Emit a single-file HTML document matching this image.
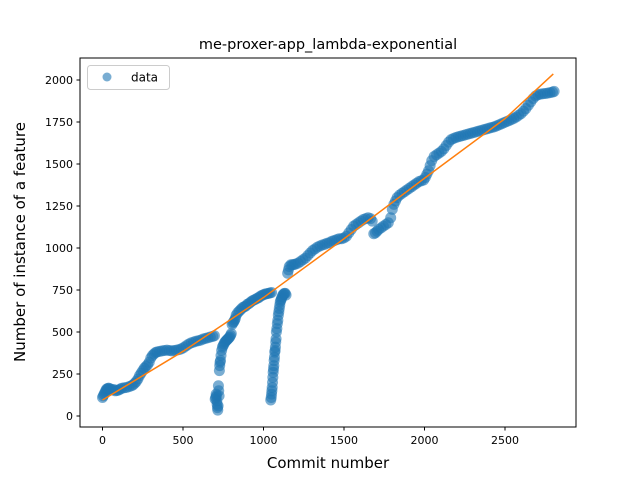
<!DOCTYPE html>
<html><head><meta charset="utf-8"><style>
body{margin:0;background:#fff;}
svg{display:block;font-family:"DejaVu Sans","Liberation Sans",sans-serif;}
</style></head><body>
<svg id="chart" width="640" height="480" viewBox="0 0 640 480">
<rect width="640" height="480" fill="#fff"/>
<text x="328" y="49" font-size="14.5" text-anchor="middle">me-proxer-app_lambda-exponential</text>
<g id="grid"></g>
<g id="marks"></g>
<rect x="80" y="58" width="496" height="369" fill="none" stroke="#000" stroke-width="1"/>
<text x="328" y="468" font-size="15" text-anchor="middle">Commit number</text>
<text x="0" y="0" font-size="15" text-anchor="middle" transform="translate(25,242) rotate(-90)">Number of instance of a feature</text>
<g>
<rect x="87.5" y="65.5" width="82" height="24" rx="3" fill="#fff" fill-opacity="0.8" stroke="#ccc"/>
<circle cx="107" cy="77" r="4.5" fill="#1f77b4" fill-opacity="0.6"/>
<text x="131" y="81.5" font-size="12">data</text>
</g>
</svg>
<script>
const xTicks=[0,500,1000,1500,2000,2500];
const yTicks=[0,250,500,750,1000,1250,1500,1750,2000];
const seg1=[[0,110],[5,120],[10,130],[15,140],[20,150],[25,160],[30,160],[35,165],[40,165],[50,160],[60,155],[70,158],[80,150],[90,152],[100,155],[110,160],[120,165],[135,168],[150,170],[165,175],[180,180],[190,185],[200,195],[210,205],[220,220],[230,240],[240,255],[250,270],[260,285],[270,295],[280,305],[290,320],[300,345],[310,360],[320,370],[330,378],[340,382],[355,385],[370,388],[385,390],[400,392],[415,390],[430,388],[445,390],[460,392],[475,395],[490,400],[505,408],[520,418],[535,428],[550,435],[565,440],[580,445],[595,448],[610,452],[625,458],[640,462],[655,466],[670,470],[685,474],[695,478]];
const seg2=[[700,100],[703,110],[706,130],[708,120],[710,90],[712,70],[714,50],[716,35],[718,60],[720,180],[722,150],[724,120],[726,270],[728,300],[730,320],[733,330],[736,360],[740,390],[745,410],[750,420],[755,430],[760,440],[765,445],[770,450],[775,455],[780,460],[785,465],[790,470],[795,480],[800,490],[805,545],[810,555],[815,560],[820,570],[825,580],[830,600],[840,615],[850,625],[860,635],[870,645],[880,650],[890,655],[900,665],[910,670],[920,678],[930,685],[940,690],[950,695],[960,700],[970,705],[980,712],[990,718],[1000,722],[1010,726],[1020,728],[1030,730],[1040,732],[1050,735]];
const seg3=[[1045,95],[1048,110],[1050,130],[1052,150],[1054,170],[1056,200],[1058,230],[1060,260],[1062,280],[1064,300],[1066,330],[1068,350],[1070,380],[1072,390],[1074,410],[1076,440],[1078,460],[1080,500],[1083,520],[1086,550],[1089,570],[1092,600],[1095,620],[1098,640],[1101,660],[1104,680],[1108,690],[1112,700],[1116,710],[1120,720],[1125,725],[1130,730],[1135,730],[1140,720]];
const seg4=[[1150,850],[1155,870],[1160,890],[1170,900],[1180,900],[1190,902],[1200,905],[1215,910],[1230,920],[1245,930],[1260,940],[1275,955],[1290,970],[1305,985],[1320,995],[1335,1005],[1350,1012],[1365,1018],[1380,1022],[1395,1028],[1410,1032],[1425,1040],[1440,1045],[1455,1050],[1470,1055],[1485,1055],[1500,1060],[1515,1070],[1530,1090],[1545,1110],[1560,1130],[1575,1140],[1590,1150],[1605,1160],[1620,1170],[1635,1175],[1650,1180],[1665,1175],[1675,1160],[1685,1085],[1695,1090],[1705,1100],[1715,1110],[1730,1120],[1745,1130],[1760,1140],[1775,1150],[1790,1180],[1800,1230],[1810,1260],[1820,1280],[1830,1300],[1845,1315],[1860,1325],[1875,1335],[1890,1345],[1905,1355],[1920,1365],[1935,1375],[1950,1385],[1965,1395],[1980,1400],[1995,1405],[2005,1420],[2015,1440],[2025,1460],[2035,1490],[2045,1520],[2060,1545],[2075,1555],[2090,1565],[2105,1575],[2120,1590],[2135,1610],[2150,1630],[2165,1645],[2180,1652],[2195,1658],[2210,1662],[2225,1666],[2240,1670],[2255,1674],[2270,1678],[2285,1682],[2300,1686],[2315,1690],[2330,1694],[2345,1698],[2360,1702],[2375,1706],[2390,1710],[2405,1714],[2420,1718],[2435,1722],[2450,1728],[2465,1734],[2480,1740],[2495,1746],[2510,1752],[2525,1758],[2540,1765],[2555,1772],[2570,1780],[2585,1790],[2600,1800],[2615,1815],[2630,1830],[2645,1850],[2660,1870],[2675,1890],[2690,1905],[2705,1912],[2720,1916],[2735,1918],[2750,1920],[2765,1922],[2780,1925],[2795,1928],[2805,1932]];
const fitX=[0,500,1000,1500,2000,2500,2800];
const fitY=[95,385,705,1055,1415,1770,2036];
const sx=v=>102.5+v*0.161;
const sy=v=>416-v*0.168;
const NS='http://www.w3.org/2000/svg';
const grid=document.getElementById('grid');
const marks=document.getElementById('marks');
function mk(tag,attrs,parent){const e=document.createElementNS(NS,tag);for(const k in attrs)e.setAttribute(k,attrs[k]);parent.appendChild(e);return e;}
xTicks.forEach(t=>{
  const l=mk('line',{x1:sx(t),x2:sx(t),y1:427,y2:430.5,stroke:'#000'},grid);
  
  
  const tx=mk('text',{x:sx(t),y:444,'font-size':11,'text-anchor':'middle'},grid);
  tx.textContent=t;
  
  
});
yTicks.forEach(t=>{
  const l=mk('line',{x1:76.5,x2:80,y1:sy(t),y2:sy(t),stroke:'#000'},grid);
  
  
  const tx=mk('text',{x:73,y:sy(t)+4,'font-size':11,'text-anchor':'end'},grid);
  tx.textContent=t;
  
  
});
[seg1,seg2,seg3,seg4].forEach(seg=>seg.forEach(pt=>{
  const c=mk('circle',{cx:sx(pt[0]),cy:sy(pt[1]),r:5.5,fill:'#1f77b4','fill-opacity':0.6},marks);
  
  
}));
const p=mk('polyline',{points:fitX.map((x,i)=>sx(x)+','+sy(fitY[i])).join(' '),fill:'none',stroke:'#ff7f0e','stroke-width':1.5},marks);


</script>
</body></html>
